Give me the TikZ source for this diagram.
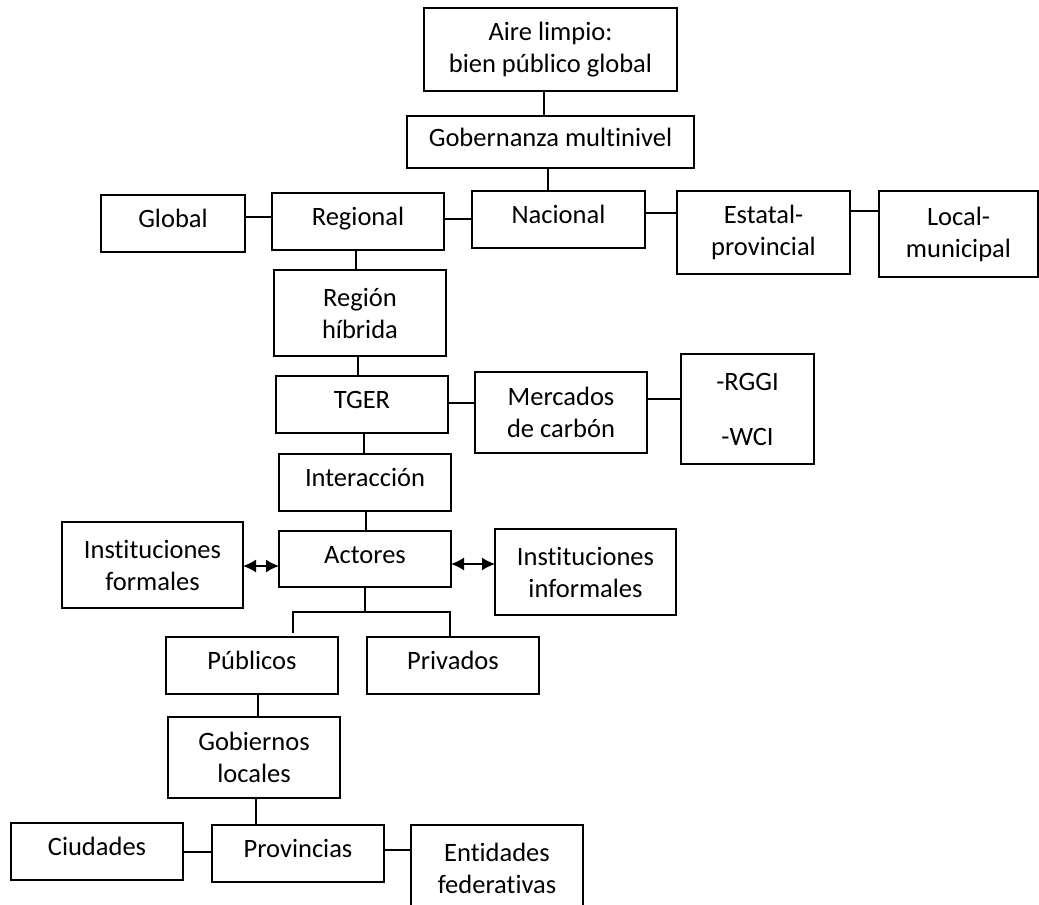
\documentclass[tikz,border=0pt]{standalone}
\usepackage{fontspec}
\setmainfont{Carlito}[Ligatures={NoCommon}]
\usetikzlibrary{arrows.meta}
\begin{document}
\begin{tikzpicture}[x=1pt,y=-1pt,
  box/.style={draw, line width=1.5pt, inner sep=0pt, outer sep=0pt, align=center,
    font=\fontsize{26.5}{32}\selectfont},
  one/.style={box, text height=17pt, text depth=9pt},
  conn/.style={line width=1.5pt},
  dbl/.style={conn, {Latex[length=13pt,width=13pt]}-{Latex[length=13pt,width=13pt]}}]
\clip (0,0) rectangle (1039,905);
% boxes
\node[box, minimum width=253pt, minimum height=83pt] (aire) at (550.5,49.5) {Aire limpio:\\bien público global};
\node[one, minimum width=287pt, minimum height=52pt] (gob) at (550.5,142) {Gobernanza multinivel};
\node[one, minimum width=144pt, minimum height=57pt] (glob) at (173,223.5) {Global};
\node[one, minimum width=172pt, minimum height=57pt] (reg) at (358,221.5) {Regional};
\node[one, minimum width=173pt, minimum height=57pt] (nac) at (558.5,219.5) {Nacional};
\node[box, minimum width=173pt, minimum height=83pt] (est) at (763.5,232.5) {Estatal-\\provincial};
\node[box, minimum width=159pt, minimum height=86pt] (loc) at (958.5,234) {Local-\\municipal};
\node[box, minimum width=172pt, minimum height=86pt] (hib) at (360,313) {Región\\híbrida};
\node[one, minimum width=172pt, minimum height=57pt] (tger) at (362,404.5) {TGER};
\node[box, minimum width=172pt, minimum height=81pt] (merc) at (561,412.5) {Mercados\\de carbón};
\node[box, minimum width=133pt, minimum height=110pt] (rggi) at (747.5,409) {-RGGI\\[23pt]-WCI};
\node[one, minimum width=172pt, minimum height=57pt] (inter) at (365,482.5) {Interacción};
\node[one, minimum width=172pt, minimum height=56pt] (act) at (365,559) {Actores};
\node[box, minimum width=181pt, minimum height=86pt] (formal) at (152.5,565) {Instituciones\\formales};
\node[box, minimum width=181pt, minimum height=86pt] (informal) at (585.5,572) {Instituciones\\informales};
\node[one, minimum width=172pt, minimum height=57pt] (pub) at (252,665.5) {Públicos};
\node[one, minimum width=172pt, minimum height=57pt] (priv) at (453,665.5) {Privados};
\node[box, minimum width=172pt, minimum height=81pt] (gobloc) at (254,757.5) {Gobiernos\\locales};
\node[one, minimum width=172pt, minimum height=57pt] (ciud) at (97,851.5) {Ciudades};
\node[one, minimum width=172pt, minimum height=57pt] (prov) at (298,853.5) {Provincias};
\node[box, minimum width=172pt, minimum height=86pt] (ent) at (497,868) {Entidades\\federativas};
% connectors
\draw[conn] ([xshift=-6.5pt]aire.south) -- ([xshift=-6.5pt]aire.south |- gob.north);
\draw[conn] ([xshift=-2.5pt]gob.south) -- ([xshift=-2.5pt]gob.south |- nac.north);
\draw[conn] ([yshift=6.5pt]glob.east) -- ([yshift=6.5pt]glob.east -| reg.west);
\draw[conn] ([yshift=2.5pt]reg.east) -- ([yshift=2.5pt]reg.east -| nac.west);
\draw[conn] ([yshift=6.5pt]nac.east) -- ([yshift=6.5pt]nac.east -| est.west);
\draw[conn] ([yshift=21.5pt]est.east) -- ([yshift=21.5pt]est.east -| loc.west);
\draw[conn] ([xshift=-2pt]reg.south) -- ([xshift=-2pt]reg.south |- hib.north);
\draw[conn] ([xshift=-2pt]hib.south) -- ([xshift=-2pt]hib.south |- tger.north);
\draw[conn] ([yshift=1.5pt]tger.east) -- ([yshift=1.5pt]tger.east -| merc.west);
\draw[conn] ([yshift=13.5pt]merc.east) -- ([yshift=13.5pt]merc.east -| rggi.west);
\draw[conn] ([xshift=2pt]tger.south) -- ([xshift=2pt]tger.south |- inter.north);
\draw[conn] ([xshift=1pt]inter.south) -- ([xshift=1pt]inter.south |- act.north);
\draw[dbl] ([yshift=-1pt]formal.east) -- ([yshift=-1pt]formal.east -| act.west);
\draw[dbl] ([yshift=-5pt]act.east) -- ([yshift=-5pt]act.east -| informal.west);
\coordinate (split) at ([yshift=-25pt]act.south);
\coordinate (pubend) at ([xshift=41pt,yshift=4pt]pub.north);
\draw[conn] (act.south) -- (split);
\draw[conn] (pubend) |- ([xshift=-3pt]priv.north |- split) -- ([xshift=-3pt]priv.north);
\draw[conn] ([xshift=6pt]pub.south) -- ([xshift=6pt]pub.south |- gobloc.north);
\draw[conn] ([xshift=2pt]gobloc.south) -- ([xshift=2pt]gobloc.south |- prov.north);
\draw[conn] ([yshift=-0.5pt]ciud.east) -- ([yshift=-0.5pt]ciud.east -| prov.west);
\draw[conn] ([yshift=3.5pt]prov.east) -- ([yshift=3.5pt]prov.east -| ent.west);
\end{tikzpicture}
\end{document}
